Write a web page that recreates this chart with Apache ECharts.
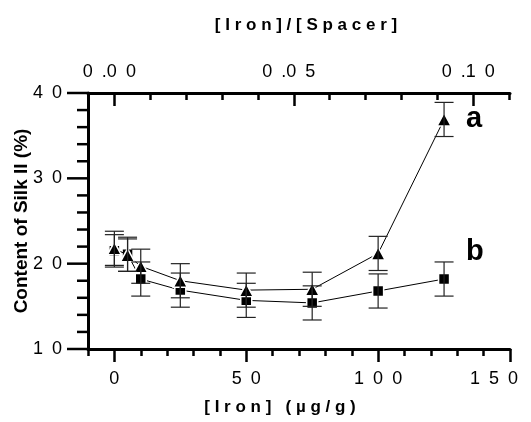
<!DOCTYPE html>
<html>
<head>
<meta charset="utf-8">
<script src="https://cdn.jsdelivr.net/npm/echarts@6/dist/echarts.min.js"></script>
<style>
html,body{margin:0;padding:0;background:#fff;}
#chart{width:531px;height:422px;}
</style>
</head>
<body>
<div id="chart"></div>
<script>
// ---- data ----
const ironX = [0, 5, 10, 25, 50, 75, 100, 125];
const silkA = [21.8, 21.0, 19.7, 18.0, 16.9, 17.0, 21.2, 36.9];
const errA  = [2.0, 1.9, 2.0, 2.0, 2.0, 2.0, 2.0, 2.0];
const silkB = [21.5, 21.1, 18.2, 16.9, 15.7, 15.4, 16.8, 18.2];
const errB  = [1.9, 2.0, 2.0, 2.0, 2.0, 2.0, 2.0, 2.0];

const xMajorTicks = [0, 50, 100, 150];
const xMinorTicks = [-10, 10, 20, 30, 40, 60, 70, 80, 90, 110, 120, 130, 140];
const yMajorTicks = [10, 20, 30, 40];
const yMinorTicks = [12, 14, 16, 18, 22, 24, 26, 28, 32, 34, 36, 38];
const topMajorTicks = [0, 0.05, 0.10];
const topMinorTicks = [0.01, 0.02, 0.03, 0.04, 0.06, 0.07, 0.08, 0.09, 0.11];
const topTickLabels = ['0.00', '0.05', '0.10'];
const seriesLabels = ['a', 'b'];

const ratio = 0.000735; // [Iron]/[Spacer] per µg/g
const xMin = -10, xMax = 150;
const yMin = 10, yMax = 40;

const FONT = '"Liberation Sans", Arial, Helvetica, sans-serif';
const EN = '\u2002';
const spaced = (s, sep) => String(s).split('').join(sep);

const chart = echarts.init(document.getElementById('chart'), null, {renderer: 'canvas'});

function errSeries(ys, errs) {
  return {
    type: 'custom', xAxisIndex: 0, yAxisIndex: 0, z: 5, silent: true,
    data: ironX.map((x, i) => [x, ys[i], errs[i]]),
    renderItem: function (params, api) {
      const x = api.value(0), y = api.value(1), e = api.value(2);
      const top = api.coord([x, y + e]);
      const bot = api.coord([x, y - e]);
      const hw = 9.5;
      const style = {stroke: '#222', lineWidth: 1.2};
      return {type: 'group', children: [
        {type: 'line', shape: {x1: top[0], y1: top[1], x2: bot[0], y2: bot[1]}, style: style},
        {type: 'line', shape: {x1: top[0] - hw, y1: top[1], x2: top[0] + hw, y2: top[1]}, style: style},
        {type: 'line', shape: {x1: bot[0] - hw, y1: bot[1], x2: bot[0] + hw, y2: bot[1]}, style: style}
      ]};
    }
  };
}

// y-axis ticks (major & minor) outside the left axis, placed through the axis scales
const yTickSeries = {
  type: 'custom', xAxisIndex: 0, yAxisIndex: 0, z: 10, silent: true, clip: false,
  data: yMajorTicks.concat(yMinorTicks).map(v => [xMin, v]),
  renderItem: function (params, api) {
    const v = api.value(1);
    const p = api.coord([api.value(0), v]);
    const len = yMajorTicks.indexOf(v) >= 0 ? 21 : 11;
    return {type: 'line', shape: {x1: p[0] - len, y1: p[1], x2: p[0], y2: p[1]},
            style: {stroke: '#000', lineWidth: 2.5}};
  }
};

const mkLine = () => ({show: true, onZero: false, lineStyle: {color: '#000', width: 3}});
const noLine = () => ({show: false, onZero: false});
const tickStyle = () => ({color: '#000', width: 2.5});

chart.setOption({
  animation: false,
  backgroundColor: '#fff',
  grid: {left: 88, top: 93, right: 21, bottom: 73, outerBoundsMode: 'none', containLabel: false},
  xAxis: [
    {type: 'value', position: 'bottom', min: xMin, max: xMax, axisLine: mkLine(),
     axisTick: {show: true, inside: false, length: 13, customValues: xMajorTicks, lineStyle: tickStyle()},
     axisLabel: {show: true, customValues: xMajorTicks, margin: 21, color: '#000', fontFamily: FONT, fontSize: 18,
                 formatter: v => (v === xMax ? '{last|' + spaced(v, EN) + '}' : spaced(v, EN)),
                 rich: {last: {fontFamily: FONT, fontSize: 18, color: '#000', padding: [0, 32, 0, 0]}}},
     splitLine: {show: false},
     name: spaced('[Iron] (µg/g)', ' '), nameLocation: 'middle', nameGap: 50, nameMoveOverlap: false,
     nameTextStyle: {fontFamily: FONT, fontWeight: 'bold', fontSize: 17, color: '#000', padding: [0, 38, 0, 0]}},
    {type: 'value', position: 'bottom', min: xMin, max: xMax, axisLine: noLine(),
     axisTick: {show: true, inside: false, length: 7, customValues: xMinorTicks, lineStyle: tickStyle()},
     axisLabel: {show: false}, splitLine: {show: false}},
    {type: 'value', position: 'top', min: xMin * ratio, max: xMax * ratio, axisLine: mkLine(),
     axisTick: {show: true, inside: true, length: 13, customValues: topMajorTicks, lineStyle: tickStyle()},
     axisLabel: {show: true, customValues: topMajorTicks, margin: 12, color: '#000', fontFamily: FONT, fontSize: 18,
                 padding: [0, 10, 0, 0],
                 formatter: function (v) {
                   const i = topMajorTicks.findIndex(t => Math.abs(t - v) < 1e-9);
                   const s = i >= 0 ? topTickLabels[i] : v.toFixed(2);
                   return s[0] + EN + '.' + s[2] + EN + s[3];
                 }},
     splitLine: {show: false},
     name: spaced('[Iron]/[Spacer]', ' '), nameLocation: 'middle', nameGap: 59, nameMoveOverlap: false,
     nameTextStyle: {fontFamily: FONT, fontWeight: 'bold', fontSize: 17, color: '#000', padding: [0, 0, 0, 14]}},
    {type: 'value', position: 'top', min: xMin * ratio, max: xMax * ratio, axisLine: noLine(),
     axisTick: {show: true, inside: true, length: 7, customValues: topMinorTicks, lineStyle: tickStyle()},
     axisLabel: {show: false}, splitLine: {show: false}}
  ],
  yAxis: [{
    type: 'value', min: yMin, max: yMax, interval: 10,
    axisLine: mkLine(),
    axisTick: {show: false},
    axisLabel: {margin: 26, color: '#000', fontFamily: FONT, fontSize: 18, formatter: v => spaced(v, EN)},
    splitLine: {show: false},
    name: 'Content of Silk II (%)', nameLocation: 'middle', nameGap: 57, nameMoveOverlap: false,
    nameTextStyle: {fontFamily: FONT, fontWeight: 'bold', fontSize: 19, color: '#000'}
  }],
  series: [
    {type: 'line', name: seriesLabels[0], xAxisIndex: 0, yAxisIndex: 0, z: 3,
     data: ironX.map((x, i) => [x, silkA[i]]), symbol: 'triangle', symbolSize: [14, 13],
     lineStyle: {color: '#000', width: 1}, itemStyle: {color: '#000', borderColor: '#fff', borderWidth: 1.5}},
    {type: 'line', name: seriesLabels[1], xAxisIndex: 0, yAxisIndex: 0, z: 2,
     data: ironX.map((x, i) => [x, silkB[i]]), symbol: 'rect', symbolSize: 11,
     lineStyle: {color: '#000', width: 1}, itemStyle: {color: '#000', borderColor: '#fff', borderWidth: 1.5}},
    errSeries(silkA, errA),
    errSeries(silkB, errB),
    yTickSeries
  ],
  graphic: [
    {type: 'text', left: 466, top: 104, style: {text: seriesLabels[0], font: 'bold 29px ' + FONT, fill: '#000'}},
    {type: 'text', left: 466, top: 237, style: {text: seriesLabels[1], font: 'bold 29px ' + FONT, fill: '#000'}}
  ]
});
</script>
</body>
</html>
